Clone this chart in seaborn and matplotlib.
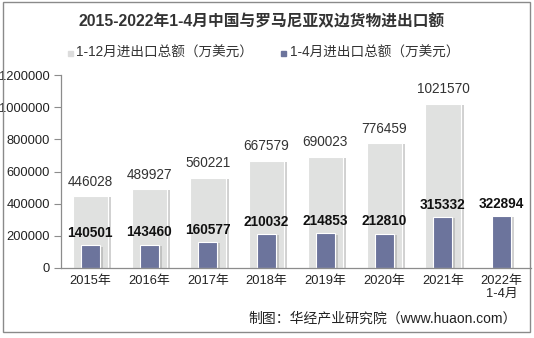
import matplotlib
matplotlib.use("Agg")
import matplotlib.pyplot as plt
import matplotlib.patheffects as pe
from matplotlib.patches import Rectangle
from matplotlib.ticker import FixedLocator
import seaborn as sns
import pandas as pd

years = ["2015年", "2016年", "2017年", "2018年", "2019年", "2020年", "2021年", "2022年\n1-4月"]
full_year_total = [446028, 489927, 560221, 667579, 690023, 776459, 1021570]
jan_apr_total = [140501, 143460, 160577, 210032, 214853, 212810, 315332, 322894]
series_full = "1-12月进出口总额（万美元）"
series_part = "1-4月进出口总额（万美元）"
title = "2015-2022年1-4月中国与罗马尼亚双边货物进出口额"
footer = "制图：华经产业研究院（www.huaon.com）"

sns.set_theme(style="white")
plt.rcParams["font.family"] = ["Liberation Sans", "Noto Sans CJK SC", "DejaVu Sans"]

gray_c = "#e0e1e0"
blue_c = "#6c749c"
axis_c = "#8c8c8c"

df_full = pd.DataFrame({"year": years[:len(full_year_total)], "value": full_year_total})
df_part = pd.DataFrame({"year": years, "value": jan_apr_total})

fig = plt.figure(figsize=(5.34, 3.38), dpi=100)
ax = fig.add_axes([61 / 534, 1 - 268 / 338, 470 / 534, 193 / 338])

shadow = [pe.SimplePatchShadow(offset=(2.2, -0.8), shadow_rgbFace="#9a9a9a", alpha=0.45), pe.Normal()]

sns.barplot(data=df_full, x="year", y="value", order=years, color=gray_c,
            width=0.6, edgecolor="white", linewidth=0.8, saturation=1, ax=ax)
n_full = len(ax.patches)
sns.barplot(data=df_part, x="year", y="value", order=years, color=blue_c,
            width=0.32, edgecolor="white", linewidth=0.8, saturation=1, ax=ax)
for p in ax.patches:
    p.set_path_effects(shadow)

# value labels
for p, v in zip(ax.patches[:n_full], full_year_total):
    ax.annotate(f"{v}", (p.get_x() + p.get_width() / 2, v), xytext=(0, 10.5),
                textcoords="offset points", ha="center", va="center",
                fontsize=9.8, color="#333333")
for p, v in zip(ax.patches[n_full:], jan_apr_total):
    ax.annotate(f"{v}", (p.get_x() + p.get_width() / 2, v), xytext=(0, 9),
                textcoords="offset points", ha="center", va="center",
                fontsize=9.8, fontweight="bold", color="#111111")

ax.set_xlim(-0.5, len(years) - 0.5)
ax.set_ylim(0, 1200000)
ax.set_yticks(range(0, 1200001, 200000))
ax.set_yticklabels([f"{t}" for t in range(0, 1200001, 200000)], fontsize=9.3, color="#222222")
ax.set_xticks(range(len(years)))
ax.set_xticklabels(years, fontsize=9.3, color="#222222", linespacing=1.1)
ax.xaxis.set_minor_locator(FixedLocator([i - 0.5 for i in range(len(years) + 1)]))
ax.tick_params(axis="x", which="major", length=0, pad=5)
ax.tick_params(axis="x", which="minor", length=4, color=axis_c, width=0.8, direction="out")
ax.tick_params(axis="y", length=5, color=axis_c, width=0.8, direction="out", pad=3, left=True)
ax.set_xlabel("")
ax.set_ylabel("")
for s in ["top", "right"]:
    ax.spines[s].set_visible(False)
for s in ["left", "bottom"]:
    ax.spines[s].set_color(axis_c)
    ax.spines[s].set_linewidth(0.9)
ax.grid(False)

# title and legend
fig.text(262 / 534, 1 - 22 / 338, title, ha="center", va="center",
         fontsize=11.3, fontweight="bold", color="#333333")
fig.patches.append(Rectangle((68 / 534, 1 - 56 / 338), 5 / 534, 5 / 338,
                             transform=fig.transFigure, color="#dcdcdc"))
fig.text(76 / 534, 1 - 53 / 338, series_full, ha="left", va="center", fontsize=9.8, color="#333333")
fig.patches.append(Rectangle((281 / 534, 1 - 56 / 338), 5 / 534, 5 / 338,
                             transform=fig.transFigure, color=blue_c))
fig.text(290 / 534, 1 - 53 / 338, series_part, ha="left", va="center", fontsize=9.8, color="#333333")

# footer
fig.text(248 / 534, 1 - 318 / 338, footer, ha="left", va="center", fontsize=10, color="#222222")

# outer frame
fig.patches.append(Rectangle((3 / 534, 6 / 338), 527 / 534, 330 / 338,
                             transform=fig.transFigure, fill=False, edgecolor="#8a8a8a", linewidth=1))

fig.savefig("out.png", dpi=100)
